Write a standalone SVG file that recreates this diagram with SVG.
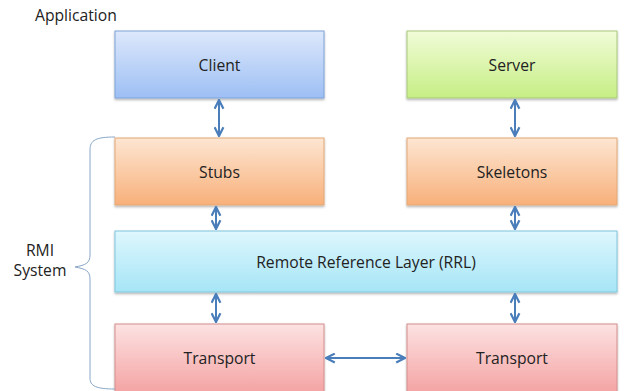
<svg xmlns="http://www.w3.org/2000/svg" width="626" height="391" viewBox="0 0 626 391">
<style>
text{font-family:"Open Sans","Noto Sans","Liberation Sans",sans-serif;font-size:15.7px;fill:#222}
.lbl{text-anchor:middle}
.box{stroke-width:1}
.con{stroke:#4a7ebb;stroke-width:2;fill:none;marker-start:url(#ah);marker-end:url(#ah)}
</style>
<defs>
<linearGradient id="gBlue" x1="0" y1="0" x2="0" y2="1"><stop offset="0" stop-color="#dde8fb"/><stop offset="1" stop-color="#9dbff4"/></linearGradient>
<linearGradient id="gGreen" x1="0" y1="0" x2="0" y2="1"><stop offset="0" stop-color="#f1fcd8"/><stop offset="1" stop-color="#c6ee84"/></linearGradient>
<linearGradient id="gOrange" x1="0" y1="0" x2="0" y2="1"><stop offset="0" stop-color="#fde6d2"/><stop offset="1" stop-color="#f8b07a"/></linearGradient>
<linearGradient id="gCyan" x1="0" y1="0" x2="0" y2="1"><stop offset="0" stop-color="#def7fd"/><stop offset="1" stop-color="#a6e5f6"/></linearGradient>
<linearGradient id="gRed" x1="0" y1="0" x2="0" y2="1"><stop offset="0" stop-color="#fde2e2"/><stop offset="1" stop-color="#f4a2a2"/></linearGradient>
<filter id="sh" x="-5%" y="-5%" width="110%" height="120%"><feDropShadow dx="0" dy="1.5" stdDeviation="1" flood-color="#000" flood-opacity="0.3"/></filter>
<marker id="ah" viewBox="0 0 10 10" refX="9" refY="5" markerWidth="5.5" markerHeight="5.5" orient="auto-start-reverse" markerUnits="strokeWidth"><path d="M1,1 L9,5 L1,9" fill="none" stroke="#4a7ebb" stroke-width="2"/></marker>
</defs>
<rect width="626" height="391" fill="#fff"/>
<text x="35" y="21">Application</text>
<g id="client"><rect class="box" x="115" y="31" width="209" height="67" fill="url(#gBlue)" stroke="#7fa3d8" filter="url(#sh)"/><text class="lbl" x="219.5" y="71">Client</text></g>
<g id="server"><rect class="box" x="407" y="31" width="210" height="67" fill="url(#gGreen)" stroke="#a9c87c" filter="url(#sh)"/><text class="lbl" x="512" y="71">Server</text></g>
<g id="stubs"><rect class="box" x="115" y="138" width="209" height="67" fill="url(#gOrange)" stroke="#e3a877" filter="url(#sh)"/><text class="lbl" x="219.5" y="178">Stubs</text></g>
<g id="skeletons"><rect class="box" x="407" y="138" width="210" height="67" fill="url(#gOrange)" stroke="#e3a877" filter="url(#sh)"/><text class="lbl" x="512" y="178">Skeletons</text></g>
<g id="rrl"><rect class="box" x="115" y="231" width="502" height="61" fill="url(#gCyan)" stroke="#80c6dd" filter="url(#sh)"/><text class="lbl" x="366" y="268">Remote Reference Layer (RRL)</text></g>
<g id="transport1"><rect class="box" x="115" y="324" width="209" height="70" fill="url(#gRed)" stroke="#d48e8e" filter="url(#sh)"/><text class="lbl" x="219.5" y="364">Transport</text></g>
<g id="transport2"><rect class="box" x="407" y="324" width="210" height="70" fill="url(#gRed)" stroke="#d48e8e" filter="url(#sh)"/><text class="lbl" x="512" y="364">Transport</text></g>
<g id="rmi">
<path d="M115,137 C96,137 90,140 90,150 L90,255 C90,263 86,265 75,267 C86,269 90,271 90,279 L90,378 C90,386 96,389 115,389" fill="none" stroke="#8aa7c8" stroke-width="1"/>
<text class="lbl" x="40" y="256">RMI</text>
<text class="lbl" x="40" y="276">System</text>
</g>
<g id="connectors">
<line class="con" x1="219" y1="100" x2="219" y2="136"/>
<line class="con" x1="515" y1="100" x2="515" y2="136"/>
<line class="con" x1="216" y1="207" x2="216" y2="229"/>
<line class="con" x1="515" y1="207" x2="515" y2="229"/>
<line class="con" x1="216" y1="294" x2="216" y2="322"/>
<line class="con" x1="515" y1="294" x2="515" y2="322"/>
<line class="con" x1="326" y1="358" x2="405" y2="358"/>
</g>
</svg>
